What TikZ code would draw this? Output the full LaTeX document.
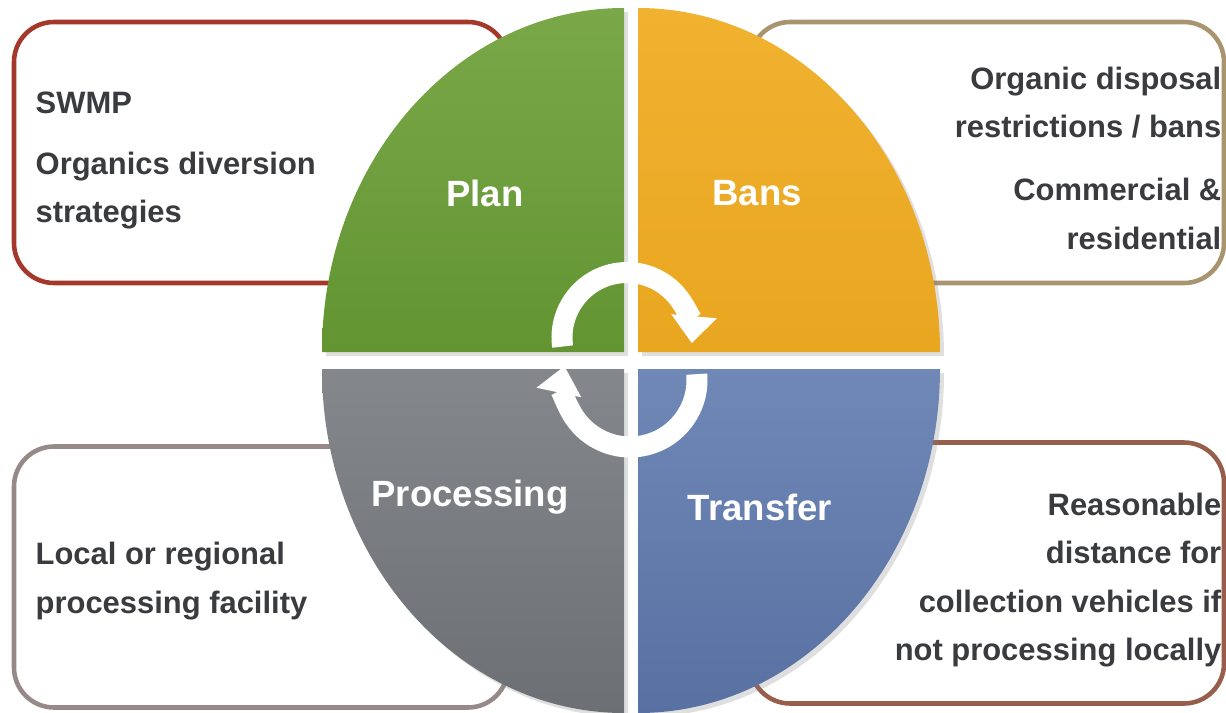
\documentclass[tikz,border=0pt]{standalone}
\usepackage{fontspec}
\setmainfont{Liberation Sans}
\usepackage{xcolor}
\usetikzlibrary{positioning}
\usetikzlibrary{calc}
\usetikzlibrary{arrows.meta}
\usetikzlibrary{shadows}
\definecolor{plan1}{RGB}{122, 168, 72}
\definecolor{plan2}{RGB}{98, 148, 50}
\definecolor{bans1}{RGB}{240, 178, 48}
\definecolor{bans2}{RGB}{233, 166, 32}
\definecolor{proc1}{RGB}{132, 135, 139}
\definecolor{proc2}{RGB}{108, 111, 116}
\definecolor{tran1}{RGB}{112, 136, 182}
\definecolor{tran2}{RGB}{88, 113, 162}
\definecolor{planedge}{RGB}{164, 56, 42}
\definecolor{bansedge}{RGB}{168, 148, 110}
\definecolor{procedge}{RGB}{150, 138, 136}
\definecolor{tranedge}{RGB}{152, 94, 76}
\definecolor{notetext}{RGB}{58, 59, 62}
\tikzstyle{infobox} = [
	rounded corners=0.4cm,
	line width=1.3pt,
	fill=white,
	minimum height=2.61cm
]
\tikzstyle{quarter} = [
	drop shadow={opacity=0.25, shadow xshift=0.04cm, shadow yshift=-0.04cm}
]
\tikzstyle{phase} = [
	text=white,
	font=\fontsize{10.4}{12}\selectfont\bfseries
]
\tikzstyle{note} = [
	text=notetext,
	inner sep=0pt,
	font=\fontsize{8.8}{13.8}\selectfont\bfseries
]
\tikzstyle{cyclearrow} = [
	white,
	line width=0.21cm,
	-{Triangle[width=0.44cm, length=0.27cm]}
]

\begin{document}
\begin{tikzpicture}
	\useasboundingbox (0,0) rectangle (12.26,7.12);

	% Text boxes
	\node[infobox, draw=planedge, minimum width=4.94cm] (planbox) at (2.61, 5.595) {};
	\node[infobox, draw=bansedge, minimum width=4.74cm] (bansbox) at (9.87, 5.595) {};
	\node[infobox, draw=procedge, minimum width=4.94cm] (procbox) at (2.61, 1.35) {};
	\node[infobox, draw=tranedge, minimum width=4.74cm] (tranbox) at (9.87, 1.39) {};

	% Quarters
	\coordinate (planC) at (6.24, 3.60);
	\coordinate (bansC) at (6.38, 3.60);
	\coordinate (procC) at (6.24, 3.43);
	\coordinate (tranC) at (6.38, 3.43);
	\path[quarter, top color=plan1, bottom color=plan2] (planC) -- ++(-3.02,0) arc[start angle=180, end angle=90, x radius=3.02, y radius=3.44] -- cycle;
	\path[quarter, top color=bans1, bottom color=bans2] (bansC) -- ++(0,3.44) arc[start angle=90, end angle=0, x radius=3.02, y radius=3.44] -- cycle;
	\path[quarter, top color=proc1, bottom color=proc2] (procC) -- ++(0,-3.44) arc[start angle=270, end angle=180, x radius=3.02, y radius=3.44] -- cycle;
	\path[quarter, top color=tran1, bottom color=tran2] (tranC) -- ++(3.02,0) arc[start angle=0, end angle=-90, x radius=3.02, y radius=3.44] -- cycle;

	% Quarter labels
	\node[phase] (plan) at (4.85, 5.19) {Plan};
	\node[phase] (bans) at (7.57, 5.19) {Bans};
	\node[phase] (proc) at (4.70, 2.15) {Processing};
	\node[phase] (tran) at (7.60, 2.05) {Transfer};

	% Cycle arrows
	\coordinate (topcyc) at (6.27, 3.745);
	\coordinate (botcyc) at (6.30, 3.32);
	\draw[cyclearrow] ($(topcyc)+(188:0.65)$) arc[start angle=188, end angle=-5, radius=0.65];
	\draw[cyclearrow] ($(botcyc)+(5:0.67)$) arc[start angle=5, end angle=-192, radius=0.67];

	% Box texts
	\node[note, anchor=west] (swmp) at (0.35, 6.09) {SWMP};
	\node[note, anchor=west, align=left] (diversion) at (0.35, 5.215) {Organics diversion\\strategies};
	\node[note, anchor=east, align=right] (disposal) at (12.22, 6.095) {Organic disposal\\restrictions / bans};
	\node[note, anchor=east, align=right] (sectors) at (12.22, 4.98) {Commercial \&\\residential};
	\node[note, anchor=west, align=left] (facility) at (0.35, 1.31) {Local or regional\\processing facility};
	\node[note, anchor=east, align=right] (distance) at (12.22, 1.32) {Reasonable\\distance for\\collection vehicles if\\not processing locally};
\end{tikzpicture}
\end{document}
